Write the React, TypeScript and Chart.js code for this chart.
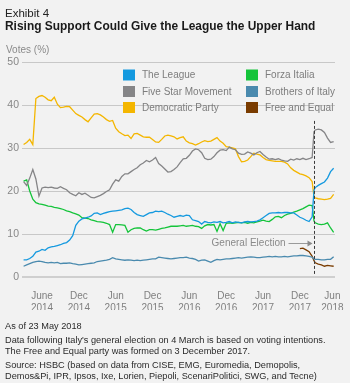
import React, { useEffect, useRef } from 'react';
import { Chart, registerables } from 'chart.js';

Chart.register(...registerables);

const FONT = '"Liberation Sans", Arial, Helvetica, sans-serif';

// x positions: months since Jan 2014 (0 = Jan 2014)
const MONTHS = [2, 2.5, 3, 3.5, 4, 4.5, 5, 5.5, 6, 6.5, 7, 7.5, 8, 8.5, 9, 9.5, 10, 10.5, 11, 11.5, 12, 12.5, 13, 13.5, 14, 14.5, 15, 15.5, 16, 16.5, 17, 17.5, 18, 18.5, 19, 19.5, 20, 20.5, 21, 21.5, 22, 22.5, 23, 23.5, 24, 24.5, 25, 25.5, 26, 26.5, 27, 27.5, 28, 28.5, 29, 29.5, 30, 30.5, 31, 31.5, 32, 32.5, 33, 33.5, 34, 34.5, 35, 35.5, 36, 36.5, 37, 37.5, 38, 38.5, 39, 39.5, 40, 40.5, 41, 41.5, 42, 42.5, 43, 43.5, 44, 44.5, 45, 45.5, 46, 46.5, 47, 47.5, 48, 48.5, 49, 49.3, 49.5, 50, 50.5, 51, 51.5, 52, 52.5];

const LEAGUE = [
  4.0, 4.0, 4.3, 4.8, 5.8, 6.0, 6.4, 6.2, 6.8, 7.0,
  7.1, 7.3, 7.5, 7.8, 8.0, 8.6, 9.6, 12.0, 13.0, 13.5,
  13.7, 13.9, 14.2, 14.8, 14.9, 14.5, 14.8, 15.0, 15.2, 15.3,
  15.4, 15.5, 15.6, 15.9, 16.0, 15.7, 15.0, 14.5, 14.3, 14.1,
  14.5, 14.9, 15.0, 15.3, 15.2, 15.3, 15.0, 14.6, 14.3, 13.9,
  14.1, 14.3, 14.1, 14.4, 14.3, 13.3, 13.1, 12.9, 12.3, 12.9,
  12.7, 12.6, 12.8, 12.7, 12.9, 12.6, 12.7, 12.9, 12.6, 12.8,
  12.7, 12.6, 12.8, 12.9, 12.8, 12.9, 13.0, 13.3, 13.8, 14.3,
  14.8, 14.9, 14.9, 15.0, 14.9, 15.0, 15.0, 14.9, 14.9, 14.4,
  13.9, 13.6, 13.2, 12.9, 14.0,
  20.2,
  20.8, 21.3, 21.7, 22.1, 23.0, 24.5, 25.3,
];

const FIVE_STAR = [
  22.2, 21.3, 23.0, 25.0, 22.8, 18.8, 20.7, 20.9, 20.8, 20.9,
  20.7, 20.6, 21.0, 20.6, 20.3, 19.6, 19.2, 18.9, 19.6, 19.2,
  19.5, 19.0, 18.5, 18.4, 18.7, 19.0, 19.4, 19.9, 20.3, 21.6,
  22.6, 22.3, 23.4, 24.0, 24.0, 24.5, 25.0, 25.4, 26.1, 26.5,
  27.1, 26.8, 27.2, 27.8, 26.4, 25.8, 25.1, 24.4, 24.5, 25.0,
  25.6, 26.6, 27.5, 27.6, 28.3, 29.3, 29.8, 29.6, 28.9, 27.6,
  27.3, 27.4, 28.0, 28.9, 29.5, 29.6, 29.4, 30.2, 29.8, 29.6,
  28.8, 28.5, 28.6, 29.1, 28.8, 28.4, 28.9, 29.2, 28.5, 27.9,
  27.4, 27.5, 27.3, 27.5, 27.2, 27.0, 26.9, 27.4, 27.2, 27.5,
  27.3, 27.6, 27.3, 27.5, 27.8,
  33.8,
  34.2, 34.4, 34.2, 33.6, 32.3, 31.3, 31.5,
];

const DEMOCRATIC = [
  30.8, 31.3, 32.0, 30.8, 41.5, 42.0, 42.2, 41.8, 41.2, 41.0,
  41.8, 40.2, 39.4, 39.5, 39.7, 39.6, 38.8, 38.0, 37.6, 37.2,
  36.6, 36.1, 37.0, 37.9, 38.0, 37.7, 37.2, 36.6, 36.2, 36.4,
  34.6, 33.8, 33.3, 32.9, 33.0, 32.2, 33.3, 33.4, 33.0, 32.6,
  32.5, 32.5, 32.0, 31.4, 31.3, 32.0, 32.8, 33.0, 32.8, 32.6,
  32.1, 32.4, 32.6, 31.6, 31.2, 31.0, 30.7, 31.0, 31.4, 31.7,
  31.5, 31.6, 32.0, 32.4, 31.6, 31.1, 30.3, 30.2, 30.0, 29.8,
  28.0, 26.8, 26.9, 27.2, 28.0, 28.8, 28.6, 28.4, 27.8, 27.3,
  27.1, 27.0, 26.9, 26.9, 26.9, 26.7, 26.3, 25.4, 24.8, 24.4,
  24.0, 23.8, 23.5, 23.1, 22.2,
  18.5,
  18.4, 18.2, 18.1, 18.0, 18.1, 18.3, 19.2,
];

const FORZA_ITALIA = [
  22.3, 22.6, 20.0, 18.1, 17.3, 17.0, 16.9, 16.7, 16.5, 16.4,
  16.2, 16.1, 15.9, 15.7, 15.4, 15.2, 14.9, 14.7, 14.4, 13.8,
  13.7, 13.6, 13.3, 13.1, 12.9, 12.8, 12.7, 12.5, 12.2, 10.4,
  12.2, 12.2, 12.1, 12.0, 10.4, 11.0, 11.3, 11.4, 11.4, 11.0,
  10.7, 11.0, 11.0, 10.9, 11.1, 11.3, 11.4, 11.6, 11.8, 11.8,
  11.8, 11.9, 12.0, 11.8, 11.9, 12.0, 11.8, 11.7, 11.3, 11.9,
  12.2, 12.1, 12.2, 10.6, 12.4, 10.8, 12.5, 12.6, 12.5, 12.6,
  12.7, 12.6, 12.7, 12.5, 12.7, 12.6, 12.8, 13.0, 13.2, 13.0,
  12.9, 13.4, 14.0, 14.1, 13.8, 14.3, 14.6, 14.8, 15.1, 15.3,
  15.6, 15.9, 16.3, 16.7, 16.6,
  13.0,
  12.6, 12.3, 12.2, 12.3, 12.6, 11.4, 10.4,
];

const BROTHERS = [
  2.5, 2.8, 3.1, 3.4, 3.6, 3.7, 3.6, 3.4, 3.3, 3.4,
  3.3, 3.4, 3.1, 3.2, 3.2, 3.3, 3.1, 3.0, 2.8, 2.9,
  3.0, 3.1, 3.2, 3.3, 3.6, 3.7, 3.8, 3.9, 4.1, 4.5,
  4.2, 4.1, 4.0, 3.9, 4.0, 3.9, 3.8, 3.9, 3.8, 3.9,
  4.0, 4.1, 4.2, 4.2, 4.6, 4.5, 4.4, 4.3, 4.2, 4.3,
  4.4, 4.5, 4.5, 4.6, 4.4, 4.3, 4.1, 3.7, 3.9, 4.0,
  3.7, 3.4, 3.8, 4.1, 4.0, 4.1, 4.2, 4.2, 4.3, 4.4,
  4.5, 4.4, 4.5, 4.6, 4.7, 4.6, 4.5, 4.5, 4.6, 4.7,
  4.8, 4.7, 4.8, 4.7, 4.7, 4.8, 4.7, 4.8, 4.9, 4.9,
  5.0, 5.0, 4.9, 4.8, 4.6,
  4.2,
  4.1, 4.1, 4.0, 4.0, 4.1, 4.1, 4.7,
];

const FREE_EQUAL_MONTHS = [47, 47.5, 48, 48.5, 49, 49.3, 49.5, 50, 50.5, 51, 51.5, 52, 52.5];
const FREE_EQUAL = [6.6, 6.7, 6.3, 5.9, 4.8, 3.8, 3.3, 3.0, 2.8, 2.5, 2.7, 2.6, 2.5];

const TICK_MONTHS = [5, 11, 17, 23, 29, 35, 41, 47, 52.3];
const TICK_LABELS = [
  ['June', '2014'], ['Dec', '2014'], ['Jun', '2015'], ['Dec', '2015'], ['Jun', '2016'],
  ['Dec', '2016'], ['Jun', '2017'], ['Dec', '2017'], ['Jun', '2018'],
];

const ELECTION_MONTH = 49.25;
const ELECTION_LINE_TOP = 36.3;
const ELECTION_LABEL_Y = 7.9;

const SERIES = [
  { label: 'The League', color: '#1499df', xs: MONTHS, ys: LEAGUE },
  { label: 'Five Star Movement', color: '#858587', xs: MONTHS, ys: FIVE_STAR },
  { label: 'Democratic Party', color: '#f4b600', xs: MONTHS, ys: DEMOCRATIC },
  { label: 'Forza Italia', color: '#14c43a', xs: MONTHS, ys: FORZA_ITALIA },
  { label: 'Brothers of Italy', color: '#4a8aae', xs: MONTHS, ys: BROTHERS },
  { label: 'Free and Equal', color: '#7a3c00', xs: FREE_EQUAL_MONTHS, ys: FREE_EQUAL },
];

// legend layout: [column, row]
const LEGEND_POS = [[0, 0], [0, 1], [0, 2], [1, 0], [1, 1], [1, 2]];

const overlay = {
  id: 'overlay',
  afterDatasetsDraw(chart: any) {
    const { ctx, scales } = chart;
    const x = scales.x;
    const y = scales.y;
    ctx.save();
    // election dashed line
    const ex = Math.round(x.getPixelForValue(ELECTION_MONTH)) + 0.5;
    ctx.strokeStyle = '#3a3a3a';
    ctx.lineWidth = 1;
    ctx.setLineDash([3, 2]);
    ctx.beginPath();
    ctx.moveTo(ex, y.getPixelForValue(ELECTION_LINE_TOP));
    ctx.lineTo(ex, y.getPixelForValue(0) - 2);
    ctx.stroke();
    ctx.setLineDash([]);

    // annotation
    const ay = Math.round(y.getPixelForValue(ELECTION_LABEL_Y)) + 0.5;
    ctx.fillStyle = '#8a8a8a';
    ctx.font = `10px ${FONT}`;
    ctx.textAlign = 'right';
    ctx.textBaseline = 'middle';
    ctx.fillText('General Election', ex - 29, ay);
    ctx.strokeStyle = '#9a9a9a';
    ctx.beginPath();
    ctx.moveTo(ex - 26, ay);
    ctx.lineTo(ex - 6, ay);
    ctx.stroke();
    ctx.fillStyle = '#8a8a8a';
    ctx.beginPath();
    ctx.moveTo(ex - 2, ay);
    ctx.lineTo(ex - 7, ay - 3);
    ctx.lineTo(ex - 7, ay + 3);
    ctx.closePath();
    ctx.fill();

    // legend
    const colX = [123, 246];
    const rowY = [75, 91.5, 107.5];
    ctx.font = `10px ${FONT}`;
    ctx.textAlign = 'left';
    ctx.textBaseline = 'middle';
    SERIES.forEach((s, i) => {
      const [c, r] = LEGEND_POS[i];
      const bx = colX[c];
      const by = rowY[r];
      ctx.fillStyle = s.color;
      ctx.fillRect(bx, by - 5.5, 12, 11);
      ctx.fillStyle = '#7d7d7d';
      ctx.fillText(s.label, bx + 19, by + 0.5);
    });
    ctx.restore();
  },
};

export default function App() {
  const ref = useRef<HTMLCanvasElement>(null);

  useEffect(() => {
    if (!ref.current) return;
    const chart = new Chart(ref.current, {
      type: 'line',
      data: {
        datasets: SERIES.map((s) => ({
          label: s.label,
          data: s.xs.map((m, i) => ({ x: m, y: s.ys[i] })),
          borderColor: s.color,
          backgroundColor: s.color,
          borderWidth: 1.3,
          pointRadius: 0,
          tension: 0,
          fill: false,
        })),
      },
      options: {
        animation: false,
        responsive: false,
        maintainAspectRatio: false,
        layout: { padding: { top: 62, right: 15, bottom: 73, left: 0 } },
        plugins: { legend: { display: false }, tooltip: { enabled: false } },
        scales: {
          x: {
            type: 'linear',
            min: 1.74,
            max: 52.72,
            grid: { display: false },
            border: { display: false },
            afterBuildTicks: (s: any) => {
              s.ticks = TICK_MONTHS.map((v) => ({ value: v }));
            },
            afterFit: (s: any) => {
              s.height = 33;
            },
            ticks: {
              autoSkip: false,
              maxRotation: 0,
              padding: 5,
              color: '#808080',
              font: { family: FONT, size: 10, lineHeight: 1.2 },
              callback: (_v: any, i: number) => TICK_LABELS[i],
            },
          },
          y: {
            min: 0,
            max: 50,
            border: { display: false },
            afterFit: (s: any) => {
              s.width = 22;
            },
            grid: {
              color: (c: any) => (c.tick && c.tick.value === 0 ? '#cfcfcf' : '#c8c8c8'),
              lineWidth: (c: any) => (c.tick && c.tick.value === 0 ? 2 : 1),
              drawTicks: false,
            },
            ticks: {
              stepSize: 10,
              padding: 3,
              color: '#888888',
              font: { family: FONT, size: 10.5 },
            },
          },
        },
      },
      plugins: [overlay],
    } as any);
    return () => chart.destroy();
  }, []);

  const note: React.CSSProperties = {
    position: 'absolute',
    left: 5,
    fontSize: 9.2,
    lineHeight: '10px',
    color: '#2a2a2a',
    whiteSpace: 'nowrap',
  };

  return (
    <div
      style={{
        position: 'absolute',
        left: 0,
        top: 0,
        width: 350,
        height: 383,
        background: '#f2f2f2',
        overflow: 'hidden',
        fontFamily: FONT,
      }}
    >
      <canvas ref={ref} width={350} height={383} style={{ position: 'absolute', left: 0, top: 0, width: 350, height: 383 }} />
      <div style={{ position: 'absolute', left: 5, top: 6, fontSize: 11.5, lineHeight: '14px', color: '#222', whiteSpace: 'nowrap' }}>
        Exhibit 4
      </div>
      <div style={{ position: 'absolute', left: 5, top: 19, fontSize: 11.95, fontWeight: 'bold', lineHeight: '14px', color: '#1a1a1a', whiteSpace: 'nowrap' }}>
        Rising Support Could Give the League the Upper Hand
      </div>
      <div style={{ position: 'absolute', left: 6, top: 44, fontSize: 10, lineHeight: '12px', color: '#8a8a8a', whiteSpace: 'nowrap' }}>
        Votes (%)
      </div>
      <div style={{ ...note, top: 320.8 }}>As of 23 May 2018</div>
      <div style={{ ...note, top: 335.1 }}>Data following Italy's general election on 4 March is based on voting intentions.</div>
      <div style={{ ...note, top: 346.1 }}>The Free and Equal party was formed on 3 December 2017.</div>
      <div style={{ ...note, top: 360.1 }}>Source: HSBC (based on data from CISE, EMG, Euromedia, Demopolis,</div>
      <div style={{ ...note, top: 370.8 }}>Demos&amp;Pi, IPR, Ipsos, Ixe, Lorien, Piepoli, ScenariPolitici, SWG, and Tecne)</div>
    </div>
  );
}
